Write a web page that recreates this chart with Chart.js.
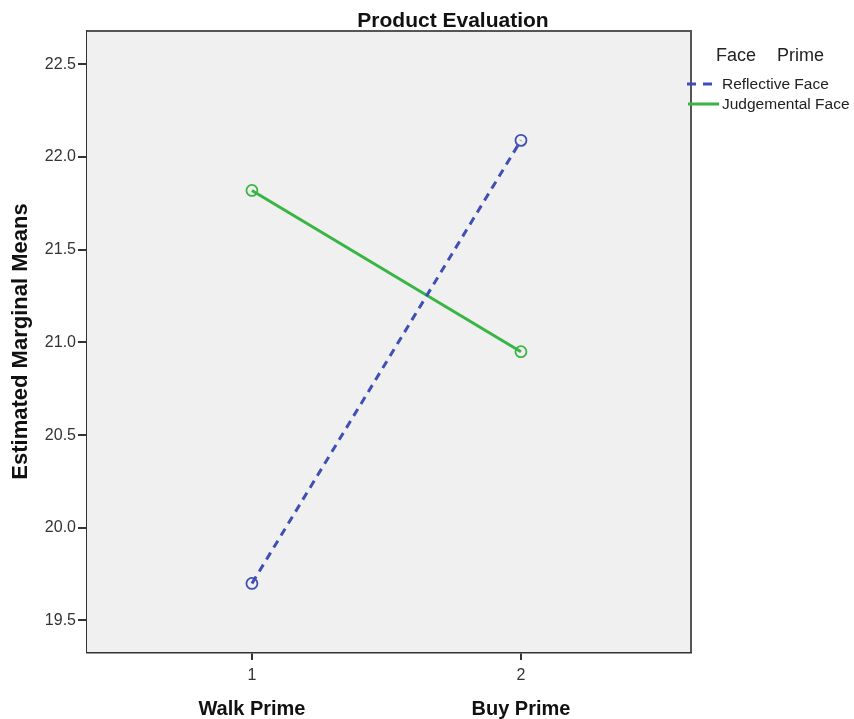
<!DOCTYPE html>
<html>
<head>
<meta charset="utf-8">
<script src="https://cdn.jsdelivr.net/npm/chart.js@4.4.1/dist/chart.umd.min.js"></script>
<style>
  html, body { margin: 0; padding: 0; background: #ffffff; }
  #wrap { width: 854px; height: 719px; }
</style>
</head>
<body>
<div id="wrap"><canvas id="c" width="854" height="719"></canvas></div>
<script>
// ---- data ----
const chartTitle = "Product Evaluation";
const categories = ["Walk Prime", "Buy Prime"];
const xPositions = [1, 2];
const seriesNames = ["Reflective Face", "Judgemental Face"];
const reflective = [19.70, 22.09];
const judgemental = [21.82, 20.95];
const yTicks = [19.5, 20.0, 20.5, 21.0, 21.5, 22.0, 22.5];
const yAxisTitle = "Estimated Marginal Means";
const legendTitleParts = ["Face", "Prime"];

const FONT = "'Liberation Sans', Arial, sans-serif";
const BLUE = "#3f4fb3";
const GREEN = "#38b544";
const DASH = [8, 6];

const frameAndTitle = {
  id: "frameAndTitle",
  beforeDatasetsDraw(chart) {
    const { ctx, chartArea: a } = chart;
    ctx.save();
    ctx.fillStyle = "#f0f0f0";
    ctx.fillRect(a.left, a.top, a.right - a.left, a.bottom - a.top);
    ctx.strokeStyle = "#555";
    ctx.lineWidth = 2;
    ctx.beginPath();
    ctx.moveTo(a.left, a.top);
    ctx.lineTo(a.right, a.top);
    ctx.lineTo(a.right, a.bottom);
    ctx.stroke();
    ctx.restore();
  },
  afterDraw(chart) {
    const { ctx, chartArea: a } = chart;
    ctx.save();
    // title
    ctx.fillStyle = "#111";
    ctx.font = "bold 21px " + FONT;
    ctx.textAlign = "center";
    ctx.textBaseline = "alphabetic";
    ctx.fillText(chartTitle, 453, 27);
    // legend
    ctx.textAlign = "left";
    ctx.font = "18px " + FONT;
    ctx.fillStyle = "#222";
    ctx.fillText(legendTitleParts[0], 716, 61);
    ctx.fillText(legendTitleParts[1], 777, 61);
    const items = chart.data.datasets.map(d => ({ label: d.label, color: d.borderColor, dash: d.borderDash || [] }));
    const ys = [84, 104];
    items.forEach((it, i) => {
      ctx.save();
      ctx.strokeStyle = it.color;
      ctx.lineWidth = 3;
      ctx.setLineDash(it.dash.length ? [9, 7] : []);
      ctx.beginPath();
      ctx.moveTo(it.dash.length ? 687 : 688, ys[i]);
      ctx.lineTo(it.dash.length ? 712 : 719, ys[i]);
      ctx.stroke();
      ctx.restore();
      ctx.font = "15.5px " + FONT;
      ctx.fillStyle = "#222";
      ctx.textBaseline = "middle";
      ctx.fillText(it.label, 722, ys[i] + 1);
    });
    ctx.restore();
  }
};

const xMin = 0.387, xMax = 2.632;

new Chart(document.getElementById("c"), {
  type: "line",
  data: {
    datasets: [
      {
        label: seriesNames[0],
        data: xPositions.map((x, i) => ({ x: x, y: reflective[i] })),
        borderColor: BLUE,
        borderWidth: 3,
        borderDash: DASH,
        pointStyle: "circle",
        pointRadius: 5.5,
        pointBorderWidth: 1.8,
        pointBorderColor: BLUE,
        pointBackgroundColor: "rgba(0,0,0,0)",
        fill: false,
        tension: 0
      },
      {
        label: seriesNames[1],
        data: xPositions.map((x, i) => ({ x: x, y: judgemental[i] })),
        borderColor: GREEN,
        borderWidth: 3,
        pointStyle: "circle",
        pointRadius: 5.5,
        pointBorderWidth: 1.8,
        pointBorderColor: GREEN,
        pointBackgroundColor: "rgba(0,0,0,0)",
        fill: false,
        tension: 0
      }
    ]
  },
  options: {
    responsive: false,
    animation: false,
    layout: { padding: { top: 31, right: 163, bottom: 0, left: 0 } },
    plugins: {
      legend: { display: false },
      title: { display: false },
      tooltip: { enabled: false }
    },
    scales: {
      x: {
        type: "linear",
        position: "bottom",
        weight: 0,
        min: xMin,
        max: xMax,
        afterBuildTicks: s => { s.ticks = xPositions.map(v => ({ value: v })); },
        afterFit: s => { s.height = 35; },
        ticks: {
          callback: v => String(v),
          font: { family: FONT, size: 16 },
          color: "#333",
          padding: 6,
          maxRotation: 0,
          autoSkip: false
        },
        grid: { display: true, drawOnChartArea: false, drawTicks: true, tickLength: 8, color: "#333", lineWidth: 2 },
        border: { display: true, color: "#333", width: 2.5 }
      },
      x2: {
        type: "linear",
        position: "bottom",
        weight: 1,
        min: xMin,
        max: xMax,
        afterBuildTicks: s => { s.ticks = xPositions.map(v => ({ value: v })); },
        afterFit: s => { s.height = 32; },
        ticks: {
          callback: v => categories[xPositions.indexOf(v)],
          font: { family: FONT, size: 20, weight: "bold" },
          color: "#111",
          padding: 2,
          maxRotation: 0,
          autoSkip: false
        },
        grid: { display: false },
        border: { display: false }
      },
      y: {
        type: "linear",
        position: "left",
        min: 19.33,
        max: 22.68,
        afterBuildTicks: s => { s.ticks = yTicks.map(v => ({ value: v })); },
        afterFit: s => { s.width = 87; },
        ticks: {
          callback: v => Number(v).toFixed(1),
          font: { family: FONT, size: 16 },
          color: "#333",
          padding: 2,
          autoSkip: false
        },
        grid: { display: true, drawOnChartArea: false, drawTicks: true, tickLength: 9, color: "#333", lineWidth: 2 },
        border: { display: true, color: "#333", width: 2.5 },
        title: {
          display: true,
          text: yAxisTitle,
          font: { family: FONT, size: 22, weight: "bold" },
          color: "#111",
          padding: { top: 8, bottom: 0 }
        }
      }
    }
  },
  plugins: [frameAndTitle]
});
</script>
</body>
</html>
